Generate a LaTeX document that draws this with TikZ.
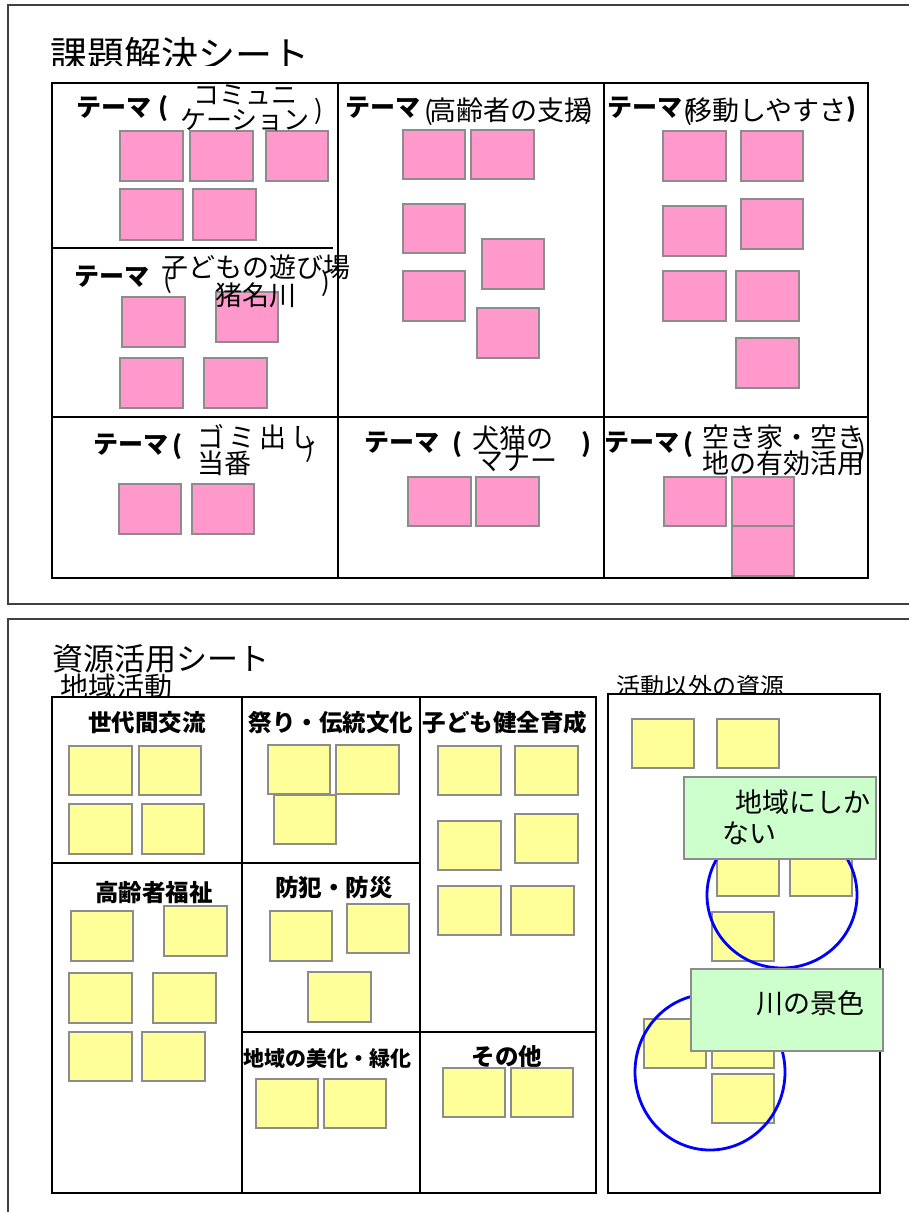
\documentclass[tikz,border=0pt]{standalone}
\usepackage{fontspec}
\newfontfamily\jp{Noto Sans CJK JP}
\definecolor{framec}{HTML}{404040}
\definecolor{stkc}{HTML}{8C8C8C}
\definecolor{pinkc}{HTML}{FF99CC}
\definecolor{yellowc}{HTML}{FFFF99}
\definecolor{greenc}{HTML}{CCFFCC}
\tikzset{
  sheet/.style={draw=framec, line width=1.5pt},
  gridl/.style={draw=black, line width=1.8pt},
  pk/.style={fill=pinkc, draw=stkc, line width=1.5pt},
  yl/.style={fill=yellowc, draw=stkc, line width=1.5pt},
  gr/.style={fill=greenc, draw=stkc, line width=1.5pt},
  ring/.style={draw=blue, line width=2.8pt},
  lbl/.style={inner sep=0pt, align=center, font=\jp\fontsize{26}{25}\selectfont},
  lbl27/.style={inner sep=0pt, align=center, font=\jp\fontsize{27}{26}\selectfont},
  thm/.style={inner sep=0pt, font=\jp\bfseries\fontsize{25}{25}\selectfont},
  par/.style={inner sep=0pt, font=\jp\fontsize{26}{26}\selectfont},
  hdr/.style={inner sep=0pt, font=\jp\bfseries\fontsize{23.5}{24}\selectfont},
}
\begin{document}
\begin{tikzpicture}[x=1pt,y=-1pt]
\useasboundingbox (0,0) rectangle (909,1212);
\fill[white] (0,0) rectangle (909,1212);

% ================= top sheet =================
\draw[sheet] (8,5) rectangle (930,604);
\begin{scope}
\clip (0,0) rectangle (909,66);
\node[inner sep=0pt, anchor=west, font=\jp\fontsize{37}{37}\selectfont] (title1) at (50,54) {課題解決シート};
\end{scope}

\draw[gridl] (52,83) rectangle (868,578);
\draw[gridl] (338,83) -- (338,578);
\draw[gridl] (604,83) -- (604,578);
\draw[gridl] (52,417) -- (868,417);
\draw[gridl] (52,248) -- (333,248);

% pink stickies
\draw[pk] (120,131) rectangle (183,181);
\draw[pk] (190,131) rectangle (253,181);
\draw[pk] (266,131) rectangle (328,181);
\draw[pk] (120,189) rectangle (183,240);
\draw[pk] (193,189) rectangle (256,240);
\draw[pk] (122,297) rectangle (185,347);
\draw[pk] (216,292) rectangle (278,342);
\draw[pk] (120,358) rectangle (183,408);
\draw[pk] (204,358) rectangle (267,408);
\draw[pk] (119,484) rectangle (181,534);
\draw[pk] (192,484) rectangle (254,534);
\draw[pk] (403,130) rectangle (465,179);
\draw[pk] (471,130) rectangle (534,179);
\draw[pk] (403,204) rectangle (465,253);
\draw[pk] (403,271) rectangle (465,321);
\draw[pk] (482,239) rectangle (544,289);
\draw[pk] (477,308) rectangle (539,358);
\draw[pk] (663,131) rectangle (726,181);
\draw[pk] (741,131) rectangle (803,181);
\draw[pk] (663,206) rectangle (726,256);
\draw[pk] (741,199) rectangle (803,249);
\draw[pk] (663,271) rectangle (726,321);
\draw[pk] (736,271) rectangle (799,321);
\draw[pk] (736,338) rectangle (799,388);
\draw[pk] (408,477) rectangle (471,526);
\draw[pk] (476,477) rectangle (539,526);
\draw[pk] (664,477) rectangle (726,526);
\draw[pk] (732,477) rectangle (794,526);
\draw[pk] (732,526) rectangle (794,576);

% theme labels
\node[thm] (th1) at (114,108) {テーマ};
\node[thm] (p1a) at (163,109) {(};
\node[lbl] (tx1) at (245,108) {コミュニ\\ケーション};
\node[par] (p1b) at (319,111) {)};

\node[thm] (th2) at (112,277) {テーマ};
\node[par] (p2a) at (168,280) {(};
\node[lbl, font=\jp\fontsize{27}{28}\selectfont] (tx2) at (256,281) {子どもの遊び場\\猪名川};
\node[par] (p2b) at (326,283) {)};

\node[thm] (th3) at (131,445) {テーマ};
\node[thm] (p3a) at (177,447) {(};
\node[inner sep=0pt, anchor=west, font=\jp\fontsize{27}{27}\selectfont\addfontfeature{LetterSpace=15}] (tx3a) at (197,437) {ゴミ出し};
\node[inner sep=0pt, anchor=west, font=\jp\fontsize{27}{27}\selectfont] (tx3b) at (197,463) {当番};
\node[par] (p3b) at (310,449) {)};

\node[thm] (th4) at (383,108) {テーマ};
\node[par] (p4a) at (429,112) {(};
\node[par] (p4b) at (589,111) {)};
\node[lbl27] (tx4) at (510,110) {高齢者の支援};

\node[thm] (th5) at (645,108) {テーマ};
\node[par] (p5a) at (688,112) {(};
\node[lbl27] (tx5) at (766,110) {移動しやすさ};
\node[thm] (p5b) at (851,110) {)};

\node[thm] (th6) at (402,443) {テーマ};
\node[thm] (p6a) at (457,445) {(};
\node[lbl27] (tx6a) at (513,438) {犬猫の};
\node[lbl27] (tx6b) at (517,461) {マナー};
\node[thm] (p6b) at (586,445) {)};

\node[thm] (th7) at (642,443) {テーマ};
\node[thm] (p7a) at (688,445) {(};
\node[par] (p7b) at (862,450) {)};
\node[lbl27] (tx7a) at (783,437) {空き家・空き};
\node[lbl27] (tx7b) at (783,463) {地の有効活用};

% ================= bottom sheet =================
\draw[sheet] (8,619) rectangle (930,1230);
\node[inner sep=0pt, font=\jp\fontsize{31}{31}\selectfont] (title2) at (161,659) {資源活用シート};
\node[inner sep=0pt, font=\jp\fontsize{28}{28}\selectfont] (chiiki) at (116,687) {地域活動};
\node[inner sep=0pt, font=\jp\fontsize{24}{24}\selectfont] (igai) at (700,686) {活動以外の資源};

\draw[gridl, fill=white] (52,697) rectangle (596,1193);
\draw[gridl] (242,697) -- (242,1193);
\draw[gridl] (420,697) -- (420,1193);
\draw[gridl] (52,863) -- (420,863);
\draw[gridl] (242,1032) -- (596,1032);
\draw[gridl, fill=white] (608,694) rectangle (880,1193);

\node[hdr] (h1) at (147,723) {世代間交流};
\node[hdr] (h2) at (331,723) {祭り・伝統文化};
\node[hdr] (h3) at (505,723) {子ども健全育成};
\node[hdr] (h4) at (154,893) {高齢者福祉};
\node[hdr] (h5) at (334,888) {防犯・防災};
\node[hdr, font=\jp\bfseries\fontsize{21}{21}\selectfont] (h6) at (327,1058) {地域の美化・緑化};
\node[hdr] (h7) at (507,1057) {その他};

% yellow stickies
\draw[yl] (69,746) rectangle (132,795);
\draw[yl] (139,746) rectangle (201,795);
\draw[yl] (69,804) rectangle (132,854);
\draw[yl] (142,804) rectangle (204,854);
\draw[yl] (268,745) rectangle (330,794);
\draw[yl] (336,745) rectangle (399,794);
\draw[yl] (274,795) rectangle (336,844);
\draw[yl] (438,746) rectangle (501,795);
\draw[yl] (515,746) rectangle (578,795);
\draw[yl] (438,821) rectangle (501,870);
\draw[yl] (515,814) rectangle (578,863);
\draw[yl] (438,886) rectangle (501,935);
\draw[yl] (511,886) rectangle (574,935);
\draw[yl] (71,911) rectangle (133,961);
\draw[yl] (164,906) rectangle (227,956);
\draw[yl] (69,973) rectangle (132,1023);
\draw[yl] (153,973) rectangle (216,1023);
\draw[yl] (69,1032) rectangle (132,1081);
\draw[yl] (142,1032) rectangle (205,1081);
\draw[yl] (270,911) rectangle (332,961);
\draw[yl] (347,904) rectangle (409,953);
\draw[yl] (308,972) rectangle (371,1022);
\draw[yl] (256,1079) rectangle (318,1128);
\draw[yl] (324,1079) rectangle (386,1128);
\draw[yl] (443,1068) rectangle (505,1117);
\draw[yl] (511,1068) rectangle (573,1117);
\draw[yl] (632,719) rectangle (694,768);
\draw[yl] (717,719) rectangle (779,768);
\draw[yl] (717,846) rectangle (779,896);
\draw[yl] (790,846) rectangle (852,896);
\draw[yl] (712,912) rectangle (774,961);
\draw[yl] (644,1019) rectangle (706,1068);
\draw[yl] (712,1019) rectangle (774,1068);
\draw[yl] (712,1074) rectangle (774,1123);

% blue rings
\draw[ring] (782,895) ellipse [x radius=75, y radius=73];
\draw[ring] (710,1072) ellipse [x radius=75, y radius=78];

% green labels
\draw[gr] (684,777) rectangle (876,859);
\node[inner sep=0pt, anchor=west, font=\jp\fontsize{27}{27}\selectfont] (g1a) at (735,802) {地域にしか};
\node[inner sep=0pt, anchor=west, font=\jp\fontsize{27}{27}\selectfont] (g1b) at (722,833) {ない};
\draw[gr] (691,969) rectangle (883,1051);
\node[inner sep=0pt, anchor=west, font=\jp\fontsize{27}{27}\selectfont] (g2) at (756,1003) {川の景色};
\end{tikzpicture}
\end{document}
